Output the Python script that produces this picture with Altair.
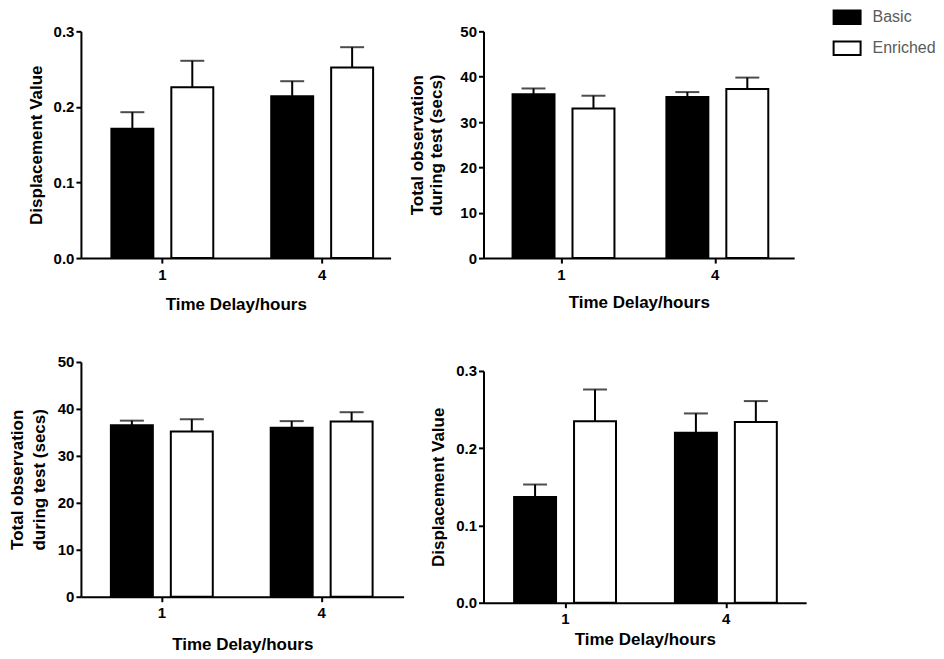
import altair as alt
import pandas as pd

# ---------------- data ----------------
delays = ["1", "4"]
groups = ["Basic", "Enriched"]

# panel 1 (top-left): displacement value
p1_basic = [0.171, 0.214]
p1_basic_sem = [0.022, 0.020]
p1_enriched = [0.226, 0.252]
p1_enriched_sem = [0.035, 0.027]

# panel 2 (top-right): total observation during test (secs)
p2_basic = [36.1, 35.5]
p2_basic_sem = [1.3, 1.1]
p2_enriched = [33.0, 37.3]
p2_enriched_sem = [2.8, 2.5]

# panel 3 (bottom-left): total observation during test (secs)
p3_basic = [36.5, 36.0]
p3_basic_sem = [1.0, 1.4]
p3_enriched = [35.2, 37.3]
p3_enriched_sem = [2.6, 2.0]

# panel 4 (bottom-right): displacement value
p4_basic = [0.137, 0.220]
p4_basic_sem = [0.016, 0.025]
p4_enriched = [0.235, 0.234]
p4_enriched_sem = [0.041, 0.027]

disp_title = "Displacement Value"
obs_title = ["Total observation", "during test (secs)"]
x_title = "Time Delay/hours"
disp_ticks = [0.0, 0.1, 0.2, 0.3]
obs_ticks = [0, 10, 20, 30, 40, 50]

FONT = "Liberation Sans"


def make_df(basic, basic_sem, enr, enr_sem):
    rows = []
    for i, d in enumerate(delays):
        rows.append({"Delay": d, "Group": groups[0], "Mean": basic[i], "Top": basic[i] + basic_sem[i]})
        rows.append({"Delay": d, "Group": groups[1], "Mean": enr[i], "Top": enr[i] + enr_sem[i]})
    return pd.DataFrame(rows)


def panel(df, ytitle, ticks, fmt, W, H, step, left_center, bar_w, bar_sep,
          yrange=None, legend=False, ytitle_pad=8, line_h=20, xtitle_pad=13):
    pi = 0.3
    bw = step * (1 - pi)
    po = max(0.0, (W / step - 2 + pi) / 2)
    total_outer = W - step * (2 - pi)
    align = min(1.0, max(0.0, (left_center - bw / 2) / total_outer)) if total_outer > 0 else 0.5
    pi_o = 1 - bar_w / bar_sep
    po_o = max(0.0, (bw / bar_sep - 2 + pi_o) / 2)

    x = alt.X("Delay:N", sort=delays,
              scale=alt.Scale(paddingInner=pi, paddingOuter=po, align=align),
              axis=alt.Axis(title=x_title, labelAngle=0, labelPadding=4, titlePadding=xtitle_pad))
    xo = alt.XOffset("Group:N", sort=groups,
                     scale=alt.Scale(paddingInner=pi_o, paddingOuter=po_o))
    yscale = alt.Scale(domain=[ticks[0], ticks[-1]], nice=False)
    if yrange is not None:
        yscale = alt.Scale(domain=[ticks[0], ticks[-1]], nice=False, range=yrange)
    y = alt.Y("Mean:Q", scale=yscale,
              axis=alt.Axis(title=ytitle, values=ticks, format=fmt, labelPadding=2,
                            titlePadding=ytitle_pad, titleLineHeight=line_h))
    if legend:
        fill = alt.Fill("Group:N", sort=groups,
                        scale=alt.Scale(domain=groups, range=["black", "white"]),
                        legend=alt.Legend(title=None, orient="none", legendX=356, legendY=-22,
                                          symbolType="M-2,-1H2V1H-2Z", symbolSize=182.25,
                                          symbolStrokeColor="black", symbolStrokeWidth=2,
                                          labelFont=FONT, labelFontSize=16, labelFontWeight="normal",
                                          labelColor="#5a5a5a", labelOffset=17.5, rowPadding=9,
                                          padding=0))
    else:
        fill = alt.Fill("Group:N", sort=groups,
                        scale=alt.Scale(domain=groups, range=["black", "white"]),
                        legend=None)

    base = alt.Chart(df)
    err = base.mark_rule(color="black", strokeWidth=2).encode(
        x=x, xOffset=xo, y=alt.Y("Mean:Q", scale=yscale), y2="Top:Q")
    cap = base.mark_tick(color="black", size=24, thickness=2).encode(
        x=x, xOffset=xo, y=alt.Y("Top:Q", scale=yscale))
    bars = base.mark_bar(stroke="black", strokeWidth=2).encode(
        x=x, xOffset=xo, y=y, fill=fill)
    return alt.layer(err, cap, bars).properties(width=W, height=H)


df1 = make_df(p1_basic, p1_basic_sem, p1_enriched, p1_enriched_sem)
df2 = make_df(p2_basic, p2_basic_sem, p2_enriched, p2_enriched_sem)
df3 = make_df(p3_basic, p3_basic_sem, p3_enriched, p3_enriched_sem)
df4 = make_df(p4_basic, p4_basic_sem, p4_enriched, p4_enriched_sem)

c1 = panel(df1, disp_title, disp_ticks, ".1f", 310, 227, 160, 81.5, 42, 60, xtitle_pad=14)
c2 = panel(df2, obs_title, obs_ticks, "d", 311, 227, 154, 78, 39, 58, legend=True,
           ytitle_pad=14, line_h=19, xtitle_pad=12)
c3 = panel(df3, obs_title, obs_ticks, "d", 323, 235, 160, 81, 40, 60,
           ytitle_pad=9, line_h=22, xtitle_pad=16)
c4 = panel(df4, disp_title, disp_ticks, ".1f", 323, 241, 161, 82, 40, 60.5, yrange=[241, 9],
           xtitle_pad=5)

chart = alt.concat(c1, c2, c3, c4, columns=2, spacing={"row": 104, "column": 80},
                   bounds="flush").resolve_scale(
    fill="independent").resolve_legend(fill="independent").properties(
    padding={"left": 0, "top": 1, "right": 0, "bottom": 0}
).configure_view(stroke=None).configure_axis(
    domainColor="black", domainWidth=2, tickColor="black", tickWidth=2, tickSize=5,
    labelFont=FONT, labelFontWeight="bold", labelFontSize=15, labelColor="black",
    titleFont=FONT, titleFontWeight="bold", titleFontSize=17, titleColor="black",
    grid=False
)

chart.save("out.html", embed_options={"renderer": "svg", "actions": False})
